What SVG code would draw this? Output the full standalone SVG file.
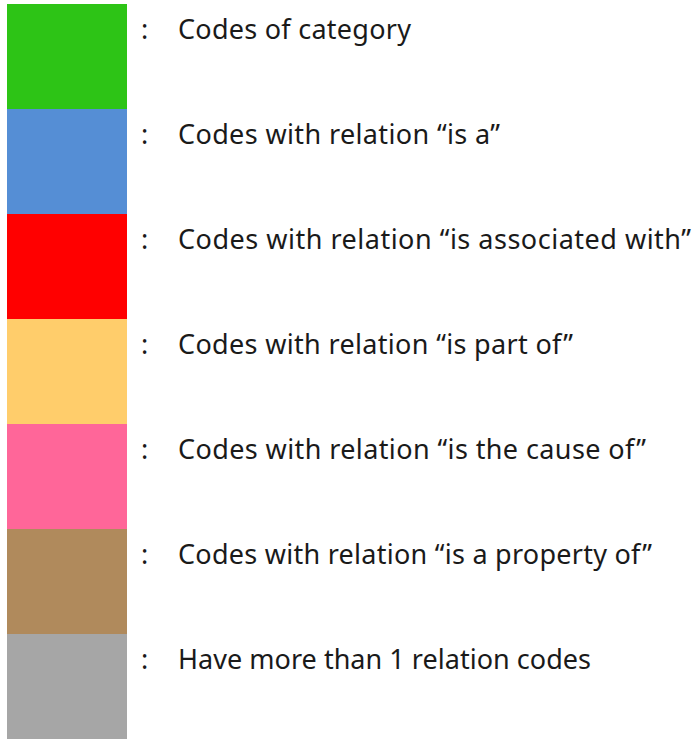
<svg xmlns="http://www.w3.org/2000/svg" width="694" height="739" viewBox="0 0 694 739">
<style>
.t{font-family:"Noto Sans","Liberation Sans",Arial,sans-serif;font-size:27px;fill:#1a1a1a}
</style>
<rect width="694" height="739" fill="#ffffff"/>
<g id="item-category"><rect x="7" y="4" width="120" height="105" fill="#2DC416"/><text class="t" x="141" y="39">:</text><text class="t" x="178" y="39" textLength="233">Codes of category</text></g>
<g id="item-is-a"><rect x="7" y="109" width="120" height="105" fill="#558ED5"/><text class="t" x="141" y="144">:</text><text class="t" x="178" y="144" textLength="322">Codes with relation “is a”</text></g>
<g id="item-associated"><rect x="7" y="214" width="120" height="105" fill="#FF0000"/><text class="t" x="141" y="249">:</text><text class="t" x="178" y="249" textLength="513">Codes with relation “is associated with”</text></g>
<g id="item-part-of"><rect x="7" y="319" width="120" height="105" fill="#FFCD6B"/><text class="t" x="141" y="354">:</text><text class="t" x="178" y="354" textLength="395">Codes with relation “is part of”</text></g>
<g id="item-cause"><rect x="7" y="424" width="120" height="105" fill="#FF6699"/><text class="t" x="141" y="459">:</text><text class="t" x="178" y="459" textLength="468">Codes with relation “is the cause of”</text></g>
<g id="item-property"><rect x="7" y="529" width="120" height="105" fill="#B08A5C"/><text class="t" x="141" y="564">:</text><text class="t" x="178" y="564" textLength="474">Codes with relation “is a property of”</text></g>
<g id="item-multi"><rect x="7" y="634" width="120" height="105" fill="#A6A6A6"/><text class="t" x="141" y="669">:</text><text class="t" x="178" y="669" textLength="413">Have more than 1 relation codes</text></g>
</svg>
